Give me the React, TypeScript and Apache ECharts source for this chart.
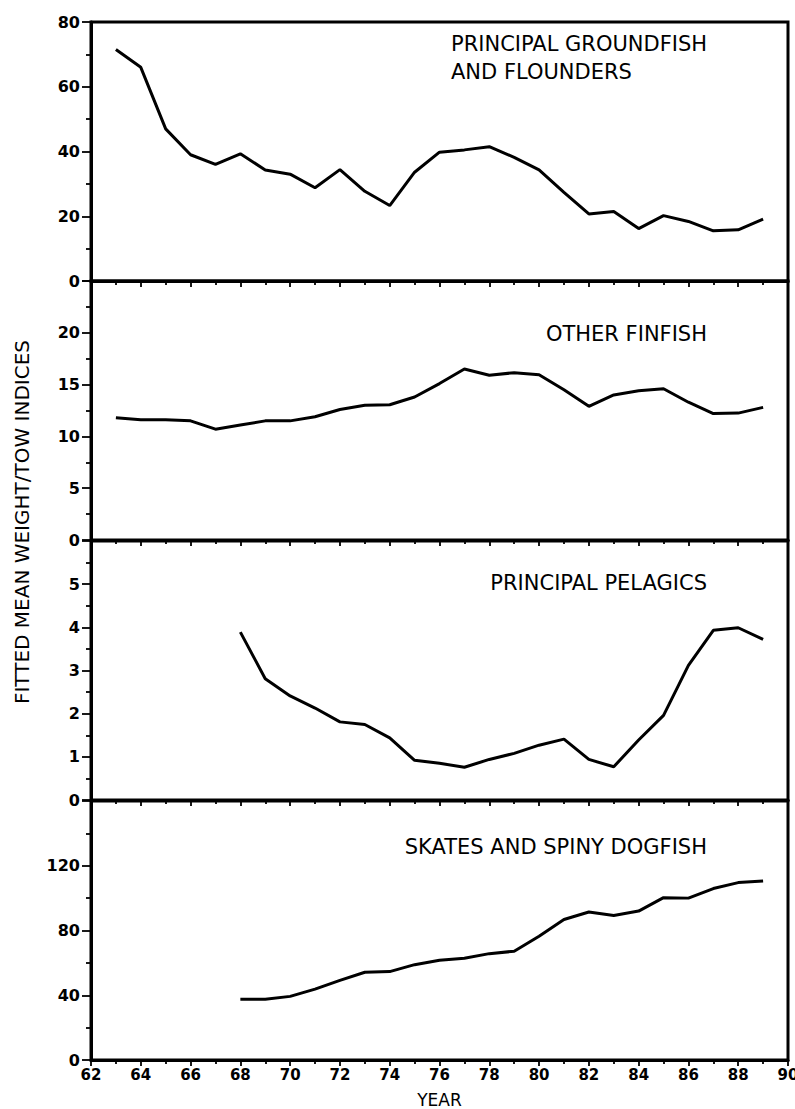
import React, { useEffect, useRef } from "react";
import * as echarts from "echarts";

// Years of the survey
const yearsAll = [63, 64, 65, 66, 67, 68, 69, 70, 71, 72, 73, 74, 75, 76, 77, 78, 79, 80, 81, 82, 83, 84, 85, 86, 87, 88, 89];
const yearsLate = [68, 69, 70, 71, 72, 73, 74, 75, 76, 77, 78, 79, 80, 81, 82, 83, 84, 85, 86, 87, 88, 89];

// Fitted mean weight/tow indices
const groundfish = [71.5, 66, 47, 39, 36, 39.3, 34.3, 33, 28.8, 34.4, 27.7, 23.3, 33.6, 39.8, 40.5, 41.5, 38.2, 34.3, 27.4, 20.7, 21.5, 16.2, 20.2, 18.4, 15.5, 15.8, 19.1];
const otherFinfish = [11.8, 11.6, 11.6, 11.5, 10.7, 11.1, 11.5, 11.5, 11.9, 12.6, 13.0, 13.05, 13.8, 15.1, 16.5, 15.9, 16.15, 15.95, 14.5, 12.9, 14.0, 14.4, 14.6, 13.3, 12.2, 12.25, 12.8];
const pelagics = [3.89, 2.81, 2.41, 2.13, 1.81, 1.75, 1.44, 0.92, 0.85, 0.76, 0.94, 1.08, 1.27, 1.41, 0.94, 0.77, 1.39, 1.96, 3.12, 3.93, 3.99, 3.72];
const skates = [37.6, 37.6, 39.3, 43.8, 49.2, 54.2, 54.6, 58.9, 61.6, 62.8, 65.7, 67.2, 76.5, 86.8, 91.4, 89.3, 92, 100.3, 100, 105.9, 109.6, 110.6];

// Axis settings per panel
const yMax = [80, 25, 6, 160];
const yInterval = [20, 5, 1, 40];
const panelTitles = ["PRINCIPAL GROUNDFISH\nAND FLOUNDERS", "OTHER FINFISH", "PRINCIPAL PELAGICS", "SKATES AND SPINY DOGFISH"];
const xMin = 62;
const xMax = 90;
const xAxisName = "YEAR";
const yAxisName = "FITTED MEAN WEIGHT/TOW INDICES";

const FONT = "'DejaVu Sans', 'Liberation Sans', sans-serif";

export default function App() {
  const ref = useRef<HTMLDivElement>(null);
  useEffect(() => {
    document.body.style.margin = "0";
    const chart = echarts.init(ref.current!, null, { renderer: "svg" });
    const tops = [22, 281, 541, 801];
    const h = 259;
    const seriesData = [
      yearsAll.map((y, i) => [y, groundfish[i]]),
      yearsAll.map((y, i) => [y, otherFinfish[i]]),
      yearsLate.map((y, i) => [y, pelagics[i]]),
      yearsLate.map((y, i) => [y, skates[i]]),
    ];
    const grids = tops.map((t) => ({
      left: 91,
      right: 7,
      top: t,
      height: h,
      containLabel: false,
      outerBoundsMode: "none",
      show: true,
      borderColor: "#000",
      borderWidth: 3,
      backgroundColor: "transparent",
    }));
    const xAxes = tops.map((_, i) => ({
      type: "value",
      gridIndex: i,
      min: xMin,
      max: xMax,
      interval: 2,
      axisLine: { show: true, lineStyle: { color: "#000", width: 3 } },
      axisTick: { show: true, inside: false, length: 6, lineStyle: { color: "#000", width: 1.8 } },
      minorTick: { show: true, splitNumber: 2, length: 4, lineStyle: { color: "#000", width: 1.8 } },
      splitLine: { show: false },
      axisLabel: {
        show: i === 3,
        color: "#000",
        fontSize: 15,
        fontWeight: "bold",
        fontFamily: FONT,
        margin: 7,
      },
      name: i === 3 ? xAxisName : "",
      nameLocation: "middle",
      nameGap: 31,
      nameTextStyle: { color: "#000", fontSize: 17, fontFamily: FONT },
    }));
    const yAxes = tops.map((_, i) => ({
      type: "value",
      gridIndex: i,
      min: 0,
      max: yMax[i],
      interval: yInterval[i],
      axisLine: { show: true, lineStyle: { color: "#000", width: 3 } },
      axisTick: { show: true, inside: false, length: 9, lineStyle: { color: "#000", width: 1.8 } },
      minorTick: { show: true, splitNumber: 2, length: 5, lineStyle: { color: "#000", width: 1.8 } },
      splitLine: { show: false },
      axisLabel: {
        color: "#000",
        fontSize: 16,
        fontWeight: "bold",
        fontFamily: FONT,
        margin: 11,
        showMaxLabel: i === 0,
      },
    }));
    const series = seriesData.map((d, i) => ({
      type: "line",
      xAxisIndex: i,
      yAxisIndex: i,
      data: d,
      showSymbol: false,
      symbol: "none",
      lineStyle: { color: "#000", width: 3 },
      silent: true,
    }));
    const titleY = [58, 334, 583, 847];
    const graphic: any[] = [
      {
        type: "text",
        x: 451,
        y: titleY[0],
        style: {
          text: panelTitles[0],
          fill: "#000",
          font: `21px ${FONT}`,
          align: "left",
          verticalAlign: "middle",
          lineHeight: 28,
        },
      },
      ...[1, 2, 3].map((i) => ({
        type: "text",
        x: 707,
        y: titleY[i],
        style: {
          text: panelTitles[i],
          fill: "#000",
          font: `21px ${FONT}`,
          align: "right",
          verticalAlign: "middle",
        },
      })),
      {
        type: "text",
        x: 22,
        y: 522,
        rotation: Math.PI / 2,
        style: {
          text: yAxisName,
          fill: "#000",
          font: `20px ${FONT}`,
          align: "center",
          verticalAlign: "middle",
        },
      },
    ];
    chart.setOption({
      animation: false,
      backgroundColor: "#fff",
      grid: grids,
      xAxis: xAxes,
      yAxis: yAxes,
      series,
      graphic,
    });
    return () => chart.dispose();
  }, []);
  return <div ref={ref} style={{ width: 795, height: 1109 }} />;
}
